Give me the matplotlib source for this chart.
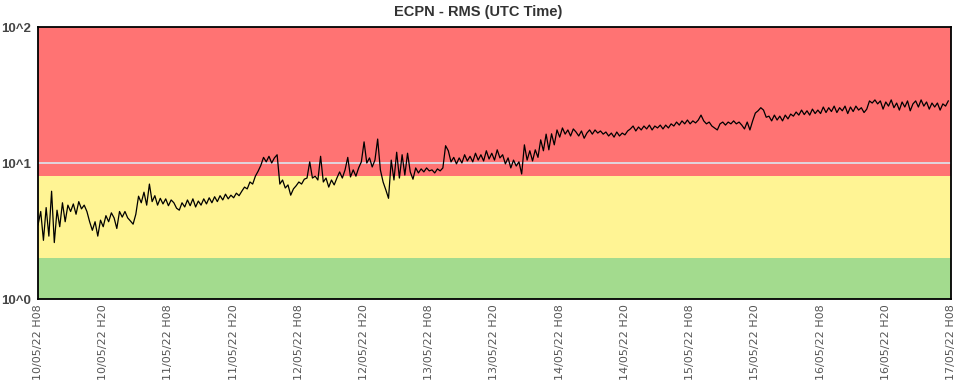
import matplotlib
matplotlib.use("Agg")
import matplotlib.pyplot as plt
import matplotlib.dates as mdates
import numpy as np
import pandas as pd

# ---- data (RMS values, 30-minute samples starting 10/05/22 08:00 UTC) ----
start_time = "2022-05-10 08:00"
step = "30min"

day1 = [3.5, 4.4, 2.7, 4.7, 2.9, 6.2, 2.6, 4.5, 3.4, 5.1, 3.7, 4.9,
        4.4, 5.0, 4.2, 5.2, 4.6, 4.9, 4.4, 3.7, 3.2, 3.7, 2.9, 3.8,
        3.4, 4.1, 3.7, 4.3, 3.95, 3.3, 4.4, 4.0, 4.4, 3.95, 3.75, 3.55,
        4.2, 5.7, 5.1, 6.1, 4.9, 7.0, 5.2, 5.75, 4.9, 5.5, 5.0, 5.45]
day2 = [4.85, 5.35, 5.1, 4.65, 4.5, 5.1, 4.75, 5.35, 4.85, 5.45, 4.75, 5.25,
        4.9, 5.45, 5.0, 5.55, 5.1, 5.65, 5.2, 5.75, 5.35, 5.9, 5.45, 5.8,
        5.55, 6.0, 5.75, 6.2, 6.65, 6.45, 7.25, 7.0, 8.0, 8.7, 9.6, 11.0,
        10.2, 11.2, 10.0, 10.9, 11.5, 7.0, 7.5, 6.55, 6.9, 5.8, 6.45, 6.8]
day3 = [7.25, 7.0, 7.6, 7.75, 10.2, 7.75, 8.0, 7.5, 11.2, 7.25, 7.75, 6.65,
        7.5, 6.9, 7.75, 8.6, 7.75, 8.9, 11.0, 7.9, 8.9, 8.0, 9.2, 10.2,
        14.3, 10.0, 10.9, 9.35, 10.5, 15.0, 8.9, 7.25, 6.35, 5.5, 10.5, 7.5,
        12.0, 7.75, 11.5, 8.15, 11.8, 8.6, 7.6, 9.2, 8.45, 9.05, 8.6, 9.2]
day4 = [8.75, 8.9, 8.45, 9.05, 8.75, 9.2, 13.4, 12.3, 10.2, 11.0, 9.85, 10.9,
        10.0, 11.5, 10.35, 11.2, 10.2, 11.8, 10.5, 11.5, 10.35, 12.3, 10.7, 11.8,
        10.5, 12.5, 10.9, 11.5, 9.85, 10.9, 9.2, 10.5, 9.5, 10.2, 8.3, 13.6,
        10.5, 12.3, 10.35, 12.5, 11.0, 14.8, 12.3, 16.3, 12.5, 16.4, 13.6, 17.5]
day5 = [15.5, 18.1, 16.3, 17.5, 15.8, 17.8, 16.9, 15.8, 17.2, 15.2, 16.6, 17.5,
        16.3, 17.5, 16.6, 17.2, 16.3, 16.9, 15.8, 16.6, 15.5, 16.9, 15.8, 16.6,
        16.1, 17.2, 17.8, 18.7, 17.2, 18.4, 17.5, 18.7, 17.8, 19.0, 17.5, 18.7,
        18.1, 19.0, 17.8, 19.0, 18.1, 19.4, 18.7, 20.0, 19.0, 20.4, 19.4, 20.7]
day6 = [19.4, 20.4, 19.7, 20.7, 22.5, 20.4, 19.4, 20.0, 18.7, 18.1, 17.5, 19.4,
        20.0, 19.0, 20.0, 19.4, 20.4, 19.4, 20.0, 19.0, 17.8, 20.0, 17.5, 20.4,
        23.3, 24.2, 25.5, 24.5, 21.7, 22.1, 20.4, 22.5, 20.7, 22.1, 20.4, 22.5,
        21.1, 22.9, 22.1, 23.7, 22.5, 24.5, 22.7, 24.2, 22.5, 24.9, 23.1, 24.5]
day7 = [23.1, 25.8, 23.5, 25.5, 23.9, 26.2, 23.5, 25.5, 24.2, 26.2, 23.1, 25.8,
        23.9, 26.2, 24.5, 25.5, 23.5, 24.9, 28.6, 27.6, 29.1, 27.2, 28.6, 24.9,
        28.1, 26.2, 29.1, 25.5, 27.6, 24.5, 28.1, 25.8, 28.6, 24.2, 27.2, 28.6,
        25.8, 29.1, 26.2, 28.1, 24.9, 27.6, 25.8, 27.6, 24.5, 27.2, 26.2, 28.6]

# threshold bands (value ranges)
band_green = (1, 2)
band_yellow = (2, 8)
band_red = (8, 100)

x_start = "2022-05-10 08:00"
x_end = "2022-05-17 08:00"
y_ticks = [1, 10, 100]
y_tick_labels = ["10^0", "10^1", "10^2"]
title = "ECPN - RMS (UTC Time)"

# ---- build ----
values = day1 + day2 + day3 + day4 + day5 + day6 + day7
times = pd.date_range(start_time, periods=len(values), freq=step)

fig = plt.figure(figsize=(9.56, 3.91), dpi=100)
ax = fig.add_axes([38 / 956, 1 - 299 / 391, (951 - 38) / 956, (299 - 27) / 391])

ax.set_yscale("log")
ax.set_ylim(1, 100)
ax.set_xlim(pd.Timestamp(x_start), pd.Timestamp(x_end))

ax.axhspan(*band_green, color="#a3db8e", lw=0, zorder=0)
ax.axhspan(*band_yellow, color="#fff494", lw=0, zorder=0)
ax.axhspan(*band_red, color="#ff7373", lw=0, zorder=0)
ax.axhline(10, color="#dce6ef", lw=1.2, zorder=1)

ax.plot(times, values, color="black", lw=0.9, zorder=2)

ax.set_yticks(y_ticks)
ax.set_yticklabels(y_tick_labels, fontfamily="Liberation Sans",
                   fontweight="bold", fontsize=9.5, color="#444444")
ax.yaxis.set_minor_locator(matplotlib.ticker.NullLocator())

ax.xaxis.set_major_locator(mdates.HourLocator(byhour=[8, 20]))
ax.xaxis.set_major_formatter(mdates.DateFormatter("%d/%m/%y H%H"))
for lab in ax.get_xticklabels():
    lab.set_rotation(90)
    lab.set_fontsize(8)
    lab.set_color("#555555")
    lab.set_fontfamily("DejaVu Sans")

ax.tick_params(axis="both", length=0, pad=5)
ax.tick_params(axis="x", pad=4)

for s in ax.spines.values():
    s.set_color("black")
    s.set_linewidth(1.3)

fig.text(0.5, 1 - 12 / 391, title, ha="center", va="center",
         fontfamily="Liberation Sans", fontweight="bold", fontsize=10.5,
         color="#333333")

fig.savefig("out.png", dpi=100)
